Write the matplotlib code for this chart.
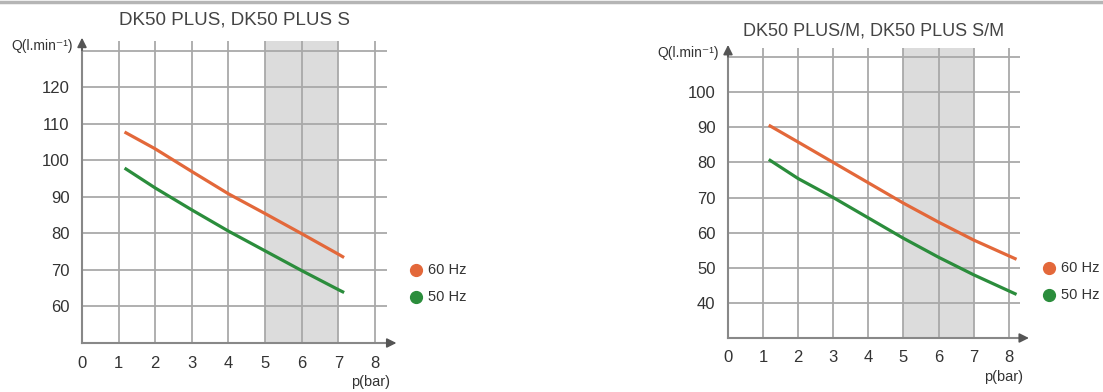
import matplotlib.pyplot as plt
from matplotlib.lines import Line2D

plt.rcParams['font.family'] = ['Liberation Sans', 'DejaVu Sans']

# left chart: DK50 PLUS
p_left = [1.2, 2, 3, 4, 5, 6, 7, 7.12]
q60_left = [107.5, 103.1, 96.9, 90.8, 85.4, 79.9, 74.3, 73.6]
q50_left = [97.6, 92.4, 86.4, 80.6, 75.2, 69.8, 64.6, 64.0]
yticks_left = [60, 70, 80, 90, 100, 110, 120]
ygrid_left = [60, 70, 80, 90, 100, 110, 120, 130]

# right chart: DK50 PLUS/M
p_right = [1.2, 2, 3, 4, 5, 6, 7, 8.18]
q60_right = [90.4, 85.8, 80.0, 74.2, 68.4, 63.0, 57.9, 52.6]
q50_right = [80.6, 75.4, 70.0, 64.2, 58.4, 53.0, 48.0, 42.6]
yticks_right = [40, 50, 60, 70, 80, 90, 100]
ygrid_right = [40, 50, 60, 70, 80, 90, 100, 110]

xticks = [0, 1, 2, 3, 4, 5, 6, 7, 8]
orange = '#e3683a'
green = '#2b8d3c'
grid_c = '#a9a9a9'
text_c = '#333333'

W, H = 1103, 392
fig = plt.figure(figsize=(W / 100, H / 100), dpi=100)
fig.add_artist(Line2D([0, 1], [1 - 1.5 / H, 1 - 1.5 / H], color='#b5b5b5', lw=2.5))


def panel(x0, x1, y0, y1, xmax, ymin, ymax, p, q60, q50, yticks, ygrid,
          title, ty, tsize, leg_x, leg_y):
    ax = fig.add_axes([x0 / W, 1 - y0 / H, (x1 - x0) / W, (y0 - y1) / H])
    ax.set_xlim(0, xmax)
    ax.set_ylim(ymin, ymax)
    ax.axvspan(5, 7, color='#dcdcdc', lw=0, zorder=0)
    ax.hlines(ygrid, 0, xmax, color=grid_c, lw=1.3, zorder=1)
    ax.vlines(xticks[1:], ymin, ymax, color=grid_c, lw=1.3, zorder=1)
    ax.plot(p, q60, color=orange, lw=2.3, zorder=3)
    ax.plot(p, q50, color=green, lw=2.3, zorder=3)
    for s in ['top', 'right']:
        ax.spines[s].set_visible(False)
    for s in ['left', 'bottom']:
        ax.spines[s].set_color('#888888')
        ax.spines[s].set_linewidth(1.5)
    ax.set_xticks(xticks)
    ax.set_yticks(yticks)
    ax.tick_params(length=0, labelsize=12, colors=text_c, pad=9)
    # axis arrows
    ax.annotate('', xy=(1.04, 0), xytext=(0.99, 0), xycoords='axes fraction',
                arrowprops=dict(arrowstyle='-|>', color='#555555', lw=1.2, mutation_scale=14))
    ax.annotate('', xy=(0, 1.02), xytext=(0, 0.96), xycoords='axes fraction',
                arrowprops=dict(arrowstyle='-|>', color='#555555', lw=1.2, mutation_scale=14))
    fig.text((x0 + x1) / 2 / W, 1 - ty / H, title, ha='center', va='center',
             fontsize=tsize, color='#444444')
    fig.text((x0 - 9) / W, 1 - (y1 + 5) / H, 'Q(l.min\u207b\u00b9)', ha='right', va='center',
             fontsize=10, color=text_c)
    fig.text((x1 + 3) / W, 1 - (y0 + 39) / H, 'p(bar)', ha='right', va='center',
             fontsize=10.5, color=text_c)
    for i, (lab, c) in enumerate([('60 Hz', orange), ('50 Hz', green)]):
        yy = 1 - (leg_y + i * 27) / H
        fig.add_artist(Line2D([leg_x / W], [yy], marker='o', color=c, ms=8.5, lw=0))
        fig.text((leg_x + 12) / W, yy, lab, va='center', fontsize=10.5, color=text_c)
    return ax


panel(82, 387, 343, 41, 8.33, 50, 132.6, p_left, q60_left, q50_left,
      yticks_left, ygrid_left, 'DK50 PLUS, DK50 PLUS S', 20, 13.5, 416, 270)
panel(728, 1020, 338, 48, 8.32, 30, 112.6, p_right, q60_right, q50_right,
      yticks_right, ygrid_right, 'DK50 PLUS/M, DK50 PLUS S/M', 31, 13, 1049, 268)

fig.savefig('out.png', dpi=100)
